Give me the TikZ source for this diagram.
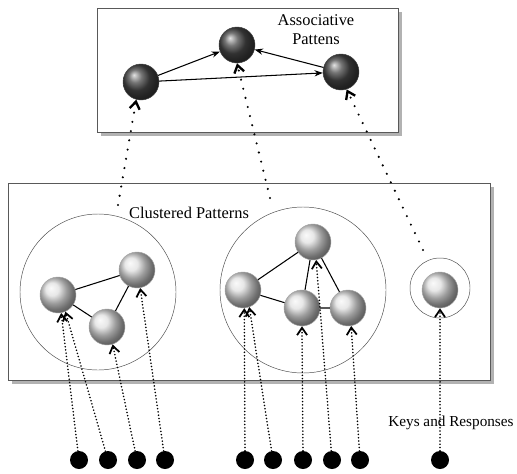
\documentclass[tikz,border=0pt]{standalone}
\usepackage{fontspec}
\setmainfont{Liberation Serif}
\usepackage{tikz}
\usetikzlibrary{arrows.meta,shadows}
\tikzset{>={Straight Barb[length=2.2mm,width=3mm]}}
\tikzset{
  panel/.style={draw=gray!70!black, fill=white, drop shadow={shadow xshift=3pt, shadow yshift=-3pt, fill=gray!60, opacity=1}},
  hub/.style={circle, draw=gray!50!black, ball color=gray!55!black, minimum size=1.08cm, inner sep=0pt},
  ball/.style={circle, draw=gray!70, ball color=gray!25, minimum size=1.08cm, inner sep=0pt},
  key/.style={circle, fill=black, minimum size=0.54cm, inner sep=0pt},
  group/.style={circle, draw=gray!60!black, inner sep=0pt},
  link/.style={line width=0.9pt},
  feed/.style={->, dash pattern=on 0pt off 2.8pt, line cap=round, line width=1.5pt},
  up/.style={->, dash pattern=on 0pt off 8pt, line cap=round, line width=2pt},
  lbl/.style={font=\fontsize{14}{16}\selectfont, align=center},
}
\begin{document}
\begin{tikzpicture}[x=0.03cm, y=-0.03cm]
			\useasboundingbox (0,0) rectangle (517,473);
			% panels
			\draw[panel] (97,8) rectangle (398,132);
			\draw[panel] (8,183) rectangle (490,380);
			\node (assoc) at (316,30) [lbl] {Associative\\Pattens};
			\node (clust) at (189,213) [lbl] {Clustered Patterns};
			% clusters
			\node (c1) at (98,292) [group, minimum size=4.68cm] {};
			\node (c2) at (303,290) [group, minimum size=4.98cm] {};
			\node (c3) at (440,288) [group, minimum size=1.8cm] {};
			\node (a) at (58,295) [ball] {};
			\node (b) at (137,270) [ball] {};
			\node (c) at (107,327) [ball] {};
			\node (d) at (313,242) [ball] {};
			\node (e) at (243,290) [ball] {};
			\node (f) at (302,308) [ball] {};
			\node (g) at (348,308) [ball] {};
			\node (h) at (440,290) [ball] {};
			\draw[link] (a) -- (b) (a) -- (c) (c) -- (b);
			\draw[link] (e) -- (d) (e) -- (f) (f) -- (d) (d) -- (g) (f) -- (g);
			% associative layer
			\node (l) at (141,82) [hub] {};
			\node (m) at (237,45) [hub] {};
			\node (r) at (341,72) [hub] {};
			\draw[link, -{Stealth[length=2.5mm]}] (l) to (m);
			\draw[link, -{Stealth[length=2.5mm]}] (l) to (r);
			\draw[link, -{Stealth[length=2.5mm]}] (r) to (m);
			\coordinate (u1) at (118,205);
			\coordinate (u2) at (270,198);
			\coordinate (u3) at (423,250);
			\draw[up] (u1) to (l.-105);
			\draw[up] (u2) to (m.south);
			\draw[up] (u3) to (r.-72);
			% keys and responses
			\node (k1) at (79,460) [key] {};
			\node (k2) at (108,460) [key] {};
			\node (k3) at (137,460) [key] {};
			\node (k4) at (165,460) [key] {};
			\node (k5) at (245,460) [key] {};
			\node (k6) at (273,460) [key] {};
			\node (k7) at (303,460) [key] {};
			\node (k8) at (332,460) [key] {};
			\node (k9) at (360,460) [key] {};
			\node (k10) at (440,460) [key] {};
			\draw[feed] (k1) to (a.-80);
			\draw[feed] (k2) to (a.-66);
			\draw[feed] (k3) to (c.-72);
			\draw[feed] (k4) to (b.-80);
			\draw[feed] (k5) to (e.-86);
			\draw[feed] (k6) to (e.-70);
			\draw[feed] (k7) to (f.south);
			\draw[feed] (k8) to (d.-80);
			\draw[feed] (k9) to (g.-80);
			\draw[feed] (k10) to (h.south);
			\node (keys) at (515,423) [lbl, anchor=east, font=\fontsize{13}{15}\selectfont, inner sep=1pt] {Keys and Responses};
		\end{tikzpicture}
\end{document}
